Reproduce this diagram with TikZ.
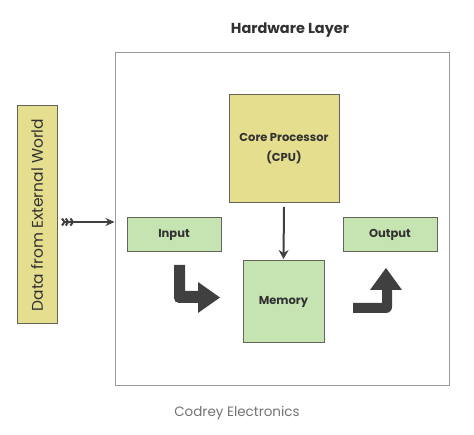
\documentclass[tikz,border=0pt]{standalone}
\usepackage{fontspec}
\setmainfont{Poppins}
\usetikzlibrary{arrows.meta}
\definecolor{ylw}{RGB}{230,222,143}
\definecolor{grn}{RGB}{198,228,178}
\definecolor{edge}{RGB}{100,100,90}
\definecolor{txt}{RGB}{50,50,50}
\definecolor{arr}{RGB}{64,64,64}
\begin{document}
\begin{tikzpicture}[x=1pt,y=-1pt,
  box/.style={draw=edge, line width=1pt, inner sep=0pt, text=txt, align=center, font=\fontsize{11.5}{14}\selectfont\bfseries},
  ybox/.style={box, fill=ylw},
  gbox/.style={box, fill=grn},
  conn/.style={draw=arr, line width=2pt},
  bigarrow/.style={fill=arr, draw=none}
]
\useasboundingbox (0,0) rectangle (474,435);
\node[draw=gray!80, line width=1pt, minimum width=334pt, minimum height=333pt, inner sep=0pt] (hw) at (282,219.5) {};
\node[text=txt, font=\fontsize{14.5}{16}\selectfont\bfseries] (title) at (290,30) {Hardware Layer};
\node[ybox, minimum width=110pt, minimum height=108pt] (cpu) at (284,149) {Core Processor\\[6pt](CPU)};
\node[gbox, minimum width=94pt, minimum height=34pt] (in) at (174,235) {Input};
\node[gbox, minimum width=94pt, minimum height=34pt] (out) at (390,235) {Output};
\node[gbox, minimum width=81pt, minimum height=82pt] (mem) at (283.5,302) {Memory};
\node[box, fill=ylw, font=\fontsize{15.5}{16}\selectfont, minimum width=218pt, minimum height=40pt, rotate=90] (ext) at (37,215) {Data from External World};
\node[text=gray!90!black, font=\fontsize{13.5}{16}\selectfont] (foot) at (237,413) {Codrey Electronics};
% connectors
\coordinate (tail) at (62,222);
\draw[conn, >={Straight Barb[length=2.5pt,width=7pt]}, {>[sep=-1pt]>[sep=-1pt]>}-{Stealth[length=9pt,width=8pt]}] (tail) -- (hw.west |- tail);
\draw[conn, -{Stealth[length=9pt,width=10pt]}] (cpu.south |- 0,207) -- (mem.north |- 0,259);
% thick bent arrows
\fill[bigarrow] (174,265) -- (185,265) -- (185,291) -- (198,291) -- (198,282) -- (220,297.5) -- (198,313) -- (198,303) -- (181,303) [rounded corners=5pt] -- (174,303) [sharp corners] -- (174,265) -- cycle;
\fill[bigarrow] (353,303) -- (382,303) -- (382,290) -- (370,290) -- (386,268) -- (402,290) -- (392,290) [rounded corners=6pt] -- (392,313) [sharp corners] -- (353,313) -- cycle;
\end{tikzpicture}
\end{document}
